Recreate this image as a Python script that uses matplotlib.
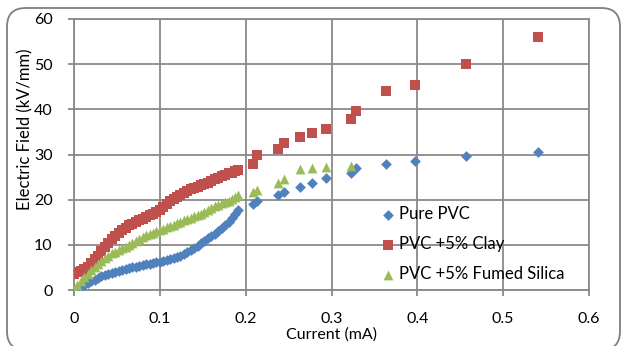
import numpy as np
import matplotlib

matplotlib.use('Agg')
import matplotlib.pyplot as plt
from matplotlib.patches import FancyBboxPatch

plt.rcParams['font.family'] = ['Lato', 'DejaVu Sans']

x_dense = [0.000, 0.004, 0.008, 0.012, 0.016, 0.020, 0.024, 0.028, 0.032, 0.036,
           0.040, 0.044, 0.048, 0.052, 0.056, 0.060, 0.064, 0.068, 0.072, 0.076,
           0.080, 0.084, 0.088, 0.092, 0.096, 0.100, 0.104, 0.108, 0.112, 0.116,
           0.120, 0.124, 0.128, 0.132, 0.136, 0.140, 0.144, 0.148, 0.152, 0.156,
           0.160, 0.164, 0.168, 0.172, 0.176, 0.180, 0.184, 0.188, 0.191]
# sparse part (higher currents)
x_sparse = [0.208, 0.213, 0.238, 0.245, 0.263, 0.277, 0.294, 0.323, 0.329,
            0.363, 0.397, 0.457, 0.540]

pure_dense = [0.0, 0.4, 0.8, 1.2, 1.6, 2.0, 2.3, 2.7, 3.0, 3.3,
              3.6, 3.8, 4.0, 4.2, 4.4, 4.6, 4.8, 5.0, 5.2, 5.4,
              5.5, 5.7, 5.8, 6.0, 6.1, 6.3, 6.4, 6.6, 6.8, 7.0,
              7.3, 7.6, 8.0, 8.4, 8.8, 9.2, 9.7, 10.3, 10.9, 11.5,
              12.0, 12.5, 13.1, 13.7, 14.4, 15.1, 15.9, 16.8, 17.7]
pure_sparse = [19.0, 19.6, 21.0, 21.7, 22.7, 23.7, 24.8, 25.9, 27.0,
               27.9, 28.5, 29.6, 30.5]

clay_dense = [3.6, 4.0, 4.3, 4.6, 5.2, 6.0, 6.8, 7.6, 8.6, 9.6,
              10.5, 11.3, 12.0, 12.6, 13.2, 13.8, 14.3, 14.7, 15.0, 15.4,
              15.8, 16.2, 16.5, 16.9, 17.3, 17.8, 18.4, 19.1, 19.6, 20.1,
              20.6, 21.0, 21.5, 21.9, 22.3, 22.6, 22.9, 23.2, 23.5, 23.8,
              24.1, 24.5, 24.9, 25.2, 25.5, 25.8, 26.0, 26.3, 26.6]
clay_sparse = [27.9, 29.9, 31.3, 32.6, 33.9, 34.7, 35.7, 37.9, 39.6,
               44.0, 45.3, 50.0, 56.0]

silica_dense = [0.3, 1.2, 2.0, 2.8, 3.6, 4.4, 5.1, 5.8, 6.4, 7.0,
                7.6, 8.1, 8.5, 8.9, 9.2, 9.5, 9.9, 10.4, 10.9, 11.3,
                11.7, 12.1, 12.4, 12.7, 13.0, 13.3, 13.6, 13.9, 14.2, 14.5,
                14.8, 15.1, 15.4, 15.7, 16.0, 16.3, 16.6, 16.9, 17.3, 17.7,
                18.1, 18.5, 18.8, 19.2, 19.5, 19.8, 20.2, 20.6, 21.0]
x_silica_sparse = [0.208, 0.213, 0.238, 0.245, 0.263, 0.277, 0.294, 0.323]
silica_sparse = [21.7, 22.1, 23.6, 24.6, 26.8, 27.0, 27.3, 27.4]

x_ticks = [0, 0.1, 0.2, 0.3, 0.4, 0.5, 0.6]
y_ticks = [0, 10, 20, 30, 40, 50, 60]

GRID = '#898989'

fig = plt.figure(figsize=(6.22, 3.46), dpi=100)
ax = fig.add_axes([74 / 622, 56 / 346, 515 / 622, 271 / 346])

ax.scatter(x_dense + x_sparse, pure_dense + pure_sparse, marker='D', s=30,
           color='#4F81BD', linewidths=0, label='Pure PVC', zorder=3)
ax.scatter(x_dense + x_sparse, clay_dense + clay_sparse, marker='s', s=42,
           color='#C0504D', linewidths=0, label='PVC +5% Clay', zorder=3)
ax.scatter(x_dense + x_silica_sparse, silica_dense + silica_sparse, marker='^', s=50,
           color='#9BBB59', linewidths=0, label='PVC +5% Fumed Silica', zorder=3)

ax.set_xlim(0, 0.6)
ax.set_ylim(0, 60)
ax.set_xticks(x_ticks)
ax.set_xticklabels(['0', '0.1', '0.2', '0.3', '0.4', '0.5', '0.6'])
ax.set_yticks(y_ticks)
ax.grid(True, color=GRID, linewidth=1.3)
ax.set_axisbelow(True)
for sp in ax.spines.values():
    sp.set_color(GRID)
    sp.set_linewidth(1.3)
ax.tick_params(axis='both', colors=GRID, width=1.3, length=4.5, labelsize=11.5,
               labelcolor='black')
ax.tick_params(axis='x', pad=11)
ax.tick_params(axis='y', pad=11)

ax.set_xlabel('Current (mA)', fontsize=11.5)
ax.xaxis.set_label_coords(0.5, -0.163)
ax.xaxis.label.set_va('center')
ax.set_ylabel('Electric Field (kV/mm)', fontsize=12)
ax.yaxis.set_label_coords(-0.095, 0.592)
ax.yaxis.label.set_va('center')

leg = ax.legend(loc='upper left', bbox_to_anchor=(0.585, 0.335), frameon=False,
                fontsize=12, handlelength=0.7, handletextpad=0.3,
                labelspacing=0.85, borderaxespad=0, scatterpoints=1)

# rounded chart-area border, its bottom edge runs just past the picture
border = FancyBboxPatch((7 / 622, -4 / 346), 613 / 622, 342 / 346,
                        boxstyle='round,pad=0,rounding_size=0.03',
                        transform=fig.transFigure, facecolor='none',
                        edgecolor='#7F7F7F', linewidth=1.3, mutation_aspect=622 / 346)
fig.patches.append(border)

fig.savefig('out.png', dpi=100)
